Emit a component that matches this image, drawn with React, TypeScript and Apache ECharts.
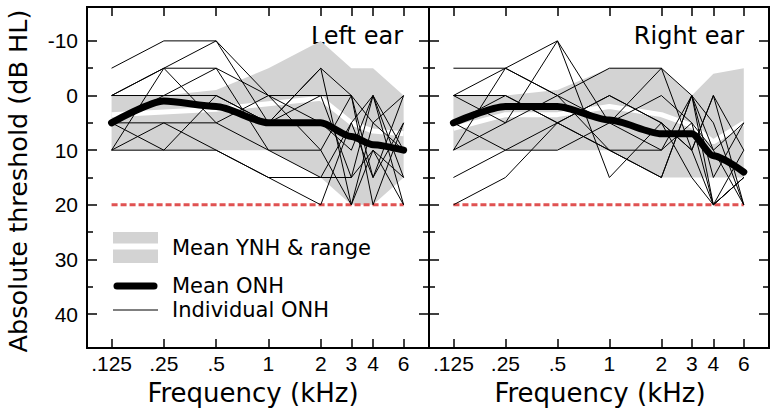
import React, { useEffect, useRef } from 'react';
import * as echarts from 'echarts';

// ---------- data ----------
const freqs = [0.125, 0.25, 0.5, 1, 2, 3, 4, 6];
const freqLabels = ['.125', '.25', '.5', '1', '2', '3', '4', '6'];
const yLabelValues = [-10, 0, 10, 20, 30, 40];
const yMinorValues = [-5, 5, 15, 25, 35];
const criterionLevel = 20;

// Left ear
const leftYnhMin = [0, 0, -1, -5, -10, -5, -5, 0];
const leftYnhMax = [10, 10, 10, 10, 15, 20, 20, 15];
const leftYnhMean = [3.5, 3, 2.5, 1.5, 0.5, 5, 6.5, 7];
const leftOnhMean = [5, 1, 2, 5, 5, 7.5, 9, 10];
const leftIndividual = [
  [-5, -10, -10, 0, 0, 0, 5, 10],
  [0, -5, -10, 5, -5, 0, 15, 0],
  [0, 0, -5, 0, 5, 10, 0, 15],
  [0, -5, -5, 10, 10, 0, 20, 5],
  [5, 10, 0, 5, 0, 15, 10, 20],
  [5, 5, 10, 15, 20, 5, 0, 10],
  [10, 5, 5, 0, 10, 20, 10, 15],
  [10, -5, 5, 10, 15, 15, 0, 20],
  [10, 10, 10, 15, 15, 5, 15, 5],
  [5, 0, 0, 5, -5, 20, 5, 0],
];

// Right ear
const rightYnhMin = [0, 0, -1, -5, -5, 0, -4, -5];
const rightYnhMax = [10, 10, 10, 10, 15, 15, 15, 15];
const rightYnhMean = [6, 3.5, 3.5, 2, 3.5, 5.5, 8.5, 5];
const rightOnhMean = [5, 2, 2, 4.5, 7, 7, 11, 14];
const rightIndividual = [
  [-5, -5, 0, 5, -5, 0, 10, 20],
  [0, -5, -10, 5, 10, 0, 20, 15],
  [0, 5, 0, -5, -5, 10, 0, 20],
  [5, 0, 5, 0, 5, 15, 20, 10],
  [10, -5, 0, 10, 15, 0, 15, 5],
  [5, 10, 10, 5, 0, 5, 20, 15],
  [10, 5, -10, 15, 5, 10, 0, 10],
  [15, 10, 5, 10, 15, 0, 5, 20],
  [20, 15, 5, 0, 5, 10, 20, 15],
  [0, 0, 5, 10, 10, 5, 10, 5],
];

// ---------- helpers ----------
const xPos = freqs.map((f) => Math.log2(f / 0.125));
const X_MIN = -0.47;
const X_MAX = 6.07;
const Y_MIN = -16.2;
const Y_MAX = 46.2;

const TICK_FONT = 'Liberation Sans';
const TEXT_FONT = 'DejaVu Sans';

function labelFor(v: number) {
  for (let i = 0; i < xPos.length; i++) {
    if (Math.abs(xPos[i] - v) < 1e-6) return freqLabels[i];
  }
  return '';
}

function xAxesFor(gridIndex: number) {
  const common = {
    type: 'value',
    gridIndex,
    min: X_MIN,
    max: X_MAX,
    splitLine: { show: false },
    axisLine: { show: true, onZero: false, lineStyle: { color: '#000', width: 2 } },
    axisTick: { show: true, inside: true, length: 9, customValues: xPos, lineStyle: { color: '#000', width: 1.5 } },
  };
  return [
    {
      ...common,
      position: 'bottom',
      axisLabel: {
        show: true,
        customValues: xPos,
        formatter: (v: number) => labelFor(v),
        color: '#000',
        fontFamily: TICK_FONT,
        fontSize: 21,
        margin: 5,
      },
    },
    { ...common, position: 'top', axisLabel: { show: false } },
  ];
}

function yAxisFor(gridIndex: number, position: string, major: boolean, labels: boolean) {
  return {
    type: 'value',
    gridIndex,
    position,
    inverse: true,
    min: Y_MIN,
    max: Y_MAX,
    splitLine: { show: false },
    axisLine: { show: true, onZero: false, lineStyle: { color: '#000', width: 2 } },
    axisTick: {
      show: true,
      inside: true,
      length: major ? 10 : 6,
      customValues: major ? yLabelValues : yMinorValues,
      lineStyle: { color: '#000', width: 1.5 },
    },
    axisLabel: labels
      ? {
          show: true,
          customValues: yLabelValues,
          formatter: (v: number) => (v < 0 ? '-' + Math.abs(v) : String(v)),
          color: '#000',
          fontFamily: TICK_FONT,
          fontSize: 21,
          margin: 9,
        }
      : { show: false },
  };
}

function pts(vals: number[]) {
  return vals.map((v, i) => [xPos[i], v]);
}

function panelSeries(
  xi: number,
  yi: number,
  ynhMin: number[],
  ynhMax: number[],
  ynhMean: number[],
  onhMean: number[],
  individual: number[][]
) {
  const s: any[] = [];
  s.push({
    type: 'custom',
    xAxisIndex: xi,
    yAxisIndex: yi,
    silent: true,
    data: [[xPos[0], ynhMin[0]]],
    renderItem: (_p: any, api: any) => {
      const upper = ynhMin.map((v, i) => api.coord([xPos[i], v]));
      const lower = ynhMax.map((v, i) => api.coord([xPos[i], v])).reverse();
      return {
        type: 'polygon',
        shape: { points: upper.concat(lower) },
        style: { fill: '#d3d3d3', stroke: null },
      };
    },
  });
  s.push({
    type: 'line',
    xAxisIndex: xi,
    yAxisIndex: yi,
    data: pts(ynhMean),
    symbol: 'none',
    silent: true,
    lineStyle: { color: '#ffffff', width: 5 },
  });
  s.push({
    type: 'line',
    xAxisIndex: xi,
    yAxisIndex: yi,
    data: [
      [xPos[0], criterionLevel],
      [xPos[xPos.length - 1], criterionLevel],
    ],
    symbol: 'none',
    silent: true,
    lineStyle: { color: '#e05252', width: 3, type: [6, 3] },
  });
  individual.forEach((row) => {
    s.push({
      type: 'line',
      xAxisIndex: xi,
      yAxisIndex: yi,
      data: pts(row),
      symbol: 'none',
      silent: true,
      lineStyle: { color: '#000', width: 1 },
    });
  });
  s.push({
    type: 'line',
    xAxisIndex: xi,
    yAxisIndex: yi,
    data: pts(onhMean),
    symbol: 'none',
    silent: true,
    smooth: 0.25,
    smoothMonotone: 'x',
    lineStyle: { color: '#000', width: 7, cap: 'round', join: 'round' },
  });
  return s;
}

export default function App() {
  const ref = useRef<HTMLDivElement>(null);
  useEffect(() => {
    if (!ref.current) return;
    const chart = echarts.init(ref.current, null, { renderer: 'svg' });
    const option: any = {
      animation: false,
      backgroundColor: '#fff',
      grid: [
        { left: 87, top: 7, width: 342, height: 341, containLabel: false },
        { left: 429, top: 7, width: 340, height: 341, containLabel: false },
      ],
      xAxis: [...xAxesFor(0), ...xAxesFor(1)],
      yAxis: [
        yAxisFor(0, 'left', true, true),
        yAxisFor(0, 'left', false, false),
        yAxisFor(0, 'right', true, false),
        yAxisFor(0, 'right', false, false),
        yAxisFor(1, 'left', true, false),
        yAxisFor(1, 'left', false, false),
        yAxisFor(1, 'right', true, false),
        yAxisFor(1, 'right', false, false),
      ],
      series: [
        ...panelSeries(0, 0, leftYnhMin, leftYnhMax, leftYnhMean, leftOnhMean, leftIndividual),
        ...panelSeries(2, 4, rightYnhMin, rightYnhMax, rightYnhMean, rightOnhMean, rightIndividual),
      ],
      graphic: [
        {
          type: 'text',
          x: 18,
          y: 181,
          rotation: Math.PI / 2,
          style: {
            text: 'Absolute threshold (dB HL)',
            fontFamily: TEXT_FONT,
            fontSize: 25.5,
            fill: '#000',
            textAlign: 'center',
            textVerticalAlign: 'middle',
          },
        },
        {
          type: 'text',
          x: 253,
          y: 393,
          style: { text: 'Frequency (kHz)', fontFamily: TEXT_FONT, fontSize: 26, fill: '#000', textAlign: 'center', textVerticalAlign: 'middle' },
        },
        {
          type: 'text',
          x: 600,
          y: 393,
          style: { text: 'Frequency (kHz)', fontFamily: TEXT_FONT, fontSize: 26, fill: '#000', textAlign: 'center', textVerticalAlign: 'middle' },
        },
        {
          type: 'text',
          x: 403,
          y: 36,
          style: { text: 'Left ear', fontFamily: TEXT_FONT, fontSize: 24, fill: '#000', textAlign: 'right', textVerticalAlign: 'middle' },
        },
        {
          type: 'text',
          x: 744,
          y: 36,
          style: { text: 'Right ear', fontFamily: TEXT_FONT, fontSize: 24, fill: '#000', textAlign: 'right', textVerticalAlign: 'middle' },
        },
        // legend
        { type: 'rect', shape: { x: 113, y: 232, width: 45, height: 31 }, style: { fill: '#d3d3d3' } },
        { type: 'line', shape: { x1: 113, y1: 246.5, x2: 158, y2: 246.5 }, style: { stroke: '#fff', lineWidth: 6 } },
        { type: 'line', shape: { x1: 117, y1: 286, x2: 154, y2: 286 }, style: { stroke: '#000', lineWidth: 7, lineCap: 'round' } },
        { type: 'line', shape: { x1: 113, y1: 310, x2: 158, y2: 310 }, style: { stroke: '#000', lineWidth: 1 } },
        {
          type: 'text',
          x: 172,
          y: 248,
          style: { text: 'Mean YNH & range', fontFamily: TEXT_FONT, fontSize: 21, fill: '#000', textVerticalAlign: 'middle' },
        },
        {
          type: 'text',
          x: 172,
          y: 286,
          style: { text: 'Mean ONH', fontFamily: TEXT_FONT, fontSize: 21, fill: '#000', textVerticalAlign: 'middle' },
        },
        {
          type: 'text',
          x: 172,
          y: 310,
          style: { text: 'Individual ONH', fontFamily: TEXT_FONT, fontSize: 21, fill: '#000', textVerticalAlign: 'middle' },
        },
      ],
    };
    chart.setOption(option);
    return () => chart.dispose();
  }, []);
  return (
    <div
      ref={ref}
      style={{ position: 'fixed', left: 0, top: 0, width: 773, height: 411, background: '#fff' }}
    />
  );
}
